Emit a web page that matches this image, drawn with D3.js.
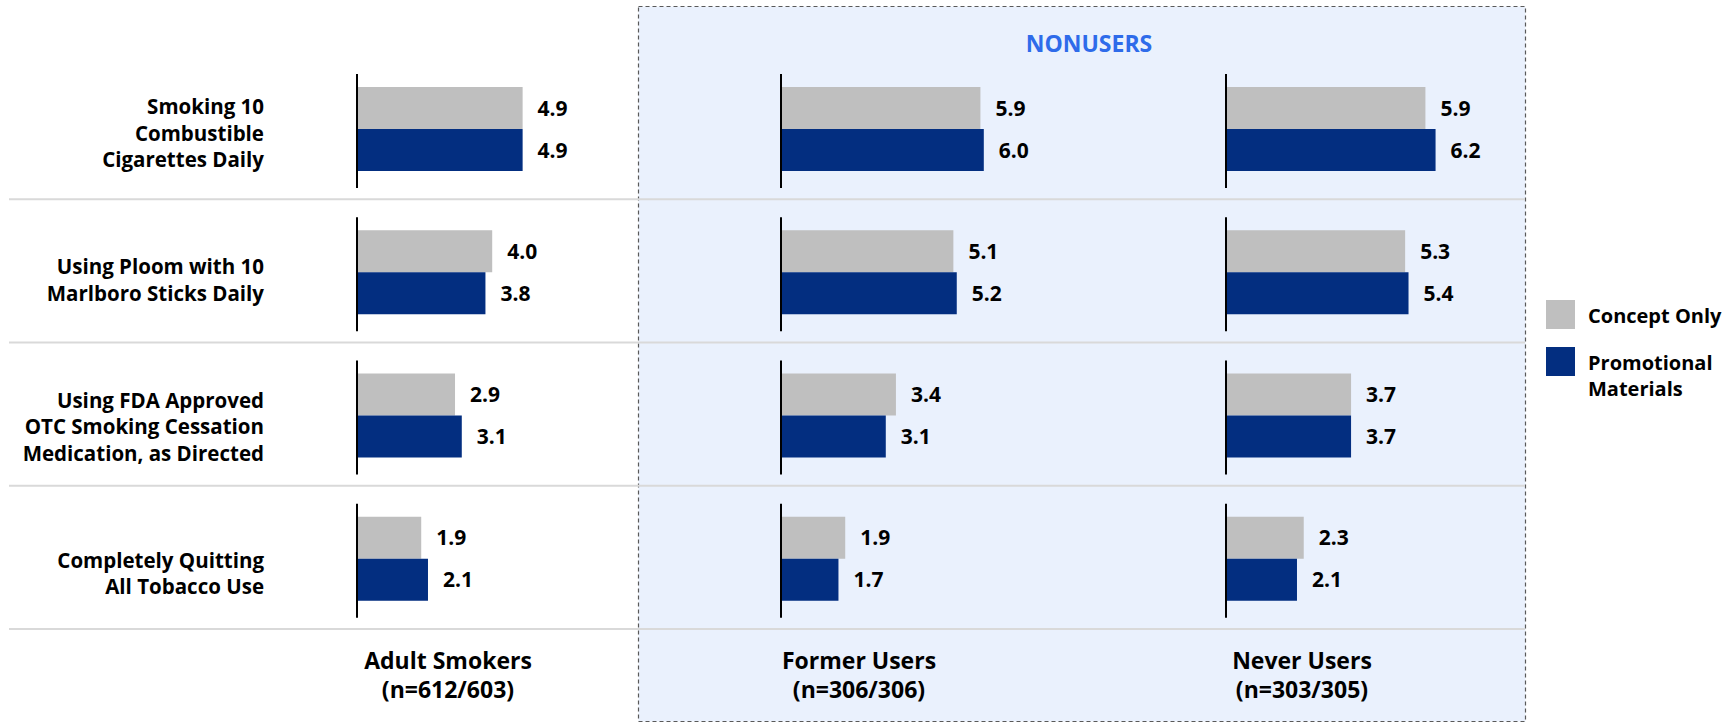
<!DOCTYPE html>
<html><head><meta charset="utf-8">
<script src="https://cdn.jsdelivr.net/npm/d3@7"></script>
<style>
html,body{margin:0;padding:0;background:#fff;}
svg{display:block;font-family:"Open Sans","Noto Sans",sans-serif;font-weight:700;}
</style></head>
<body>
<svg id="chart" width="1734" height="723"></svg>
<script>
const categories = [
  ["Smoking 10", "Combustible", "Cigarettes Daily"],
  ["Using Ploom with 10", "Marlboro Sticks Daily"],
  ["Using FDA Approved", "OTC Smoking Cessation", "Medication, as Directed"],
  ["Completely Quitting", "All Tobacco Use"]
];
const groups = ["Adult Smokers", "Former Users", "Never Users"];
const groupN = ["(n=612/603)", "(n=306/306)", "(n=303/305)"];
const series = ["Concept Only", "Promotional Materials"];
const seriesLegend = [["Concept Only"], ["Promotional", "Materials"]];
const colors = ["#BFBFBF", "#032E80"];
// values[group][category] for each series
const conceptOnly = [
  [4.9, 4.0, 2.9, 1.9],
  [5.9, 5.1, 3.4, 1.9],
  [5.9, 5.3, 3.7, 2.3]
];
const promotional = [
  [4.9, 3.8, 3.1, 2.1],
  [6.0, 5.2, 3.1, 1.7],
  [6.2, 5.4, 3.7, 2.1]
];
const panelTitle = "NONUSERS";

const svg = d3.select("#chart");
const catIdx = d3.range(categories.length);

const rowY = d3.scaleBand().domain(catIdx).range([56, 629]).paddingInner(0).paddingOuter(0);
const labelY = d3.scaleBand().domain(catIdx).range([60, 647]);
const barY = d3.scaleBand().domain(series).range([31, 115]);
const groupX = d3.scaleOrdinal().domain(groups).range([357, 781, 1226]);
const groupLabelX = d3.scaleOrdinal().domain(groups).range([448, 859, 1302]);
const x = d3.scaleLinear().domain([0, 1]).range([0, 33.8]);

// nonusers panel
svg.append("rect").attr("x", 638.5).attr("y", 6.5).attr("width", 887).attr("height", 715)
  .attr("fill", "#EAF1FD").attr("stroke", "#595959").attr("stroke-width", 1.2)
  .attr("stroke-dasharray", "4,3");
svg.append("text").attr("x", 1089).attr("y", 52).attr("text-anchor", "middle")
  .attr("fill", "#2E6BEA").attr("font-size", 23).text(panelTitle);

// separators
const sepYs = catIdx.slice(1).map(i => rowY(i)).concat([rowY.range()[1]]);
svg.selectAll("line.sep").data(sepYs).join("line").attr("class", "sep")
  .attr("x1", 9).attr("x2", 1525).attr("y1", d => d).attr("y2", d => d)
  .attr("stroke", "#D9D9D9").attr("stroke-width", 2);

// category labels
catIdx.forEach(i => {
  const lines = categories[i];
  const cy = labelY(i) + labelY.bandwidth() / 2;
  const lh = 26.3;
  const t = svg.append("text").attr("text-anchor", "end").attr("font-size", 20.5).attr("fill", "#000");
  lines.forEach((ln, k) => {
    t.append("tspan").attr("x", 264)
      .attr("y", cy + (k - (lines.length - 1) / 2) * lh)
      .attr("dy", "0.36em").text(ln);
  });
});

// bars
const data = [];
groups.forEach((g, gi) => catIdx.forEach(ci => {
  data.push({g, ci, s: series[0], v: conceptOnly[gi][ci], c: colors[0]});
  data.push({g, ci, s: series[1], v: promotional[gi][ci], c: colors[1]});
}));

svg.selectAll("rect.bar").data(data).join("rect").attr("class", "bar")
  .attr("x", d => groupX(d.g))
  .attr("y", d => rowY(d.ci) + barY(d.s))
  .attr("width", d => x(d.v))
  .attr("height", barY.bandwidth())
  .attr("fill", d => d.c);

svg.selectAll("text.val").data(data).join("text").attr("class", "val")
  .attr("x", d => groupX(d.g) + x(d.v) + 15)
  .attr("y", d => rowY(d.ci) + barY(d.s) + barY.bandwidth() / 2)
  .attr("dy", "0.36em").attr("font-size", 21).attr("fill", "#000")
  .text(d => d3.format(".1f")(d.v));

// baseline axes
groups.forEach(g => catIdx.forEach(ci => {
  svg.append("line").attr("x1", groupX(g)).attr("x2", groupX(g))
    .attr("y1", rowY(ci) + 18).attr("y2", rowY(ci) + 132)
    .attr("stroke", "#000").attr("stroke-width", 2);
}));

// group labels
groups.forEach((g, gi) => {
  const t = svg.append("text").attr("text-anchor", "middle").attr("font-size", 23).attr("fill", "#000");
  t.append("tspan").attr("x", groupLabelX(g)).attr("y", 669).text(g);
  t.append("tspan").attr("x", groupLabelX(g)).attr("y", 698).text(groupN[gi]);
});

// legend
const legY = d3.scaleOrdinal().domain(series).range([300, 347]);
series.forEach((s, si) => {
  svg.append("rect").attr("x", 1546).attr("y", legY(s)).attr("width", 29).attr("height", 29).attr("fill", colors[si]);
  const t = svg.append("text").attr("font-size", 20).attr("fill", "#000");
  seriesLegend[si].forEach((ln, k) => {
    t.append("tspan").attr("x", 1588).attr("y", legY(s) + 23 + k * 26).text(ln);
  });
});
</script>
</body></html>
